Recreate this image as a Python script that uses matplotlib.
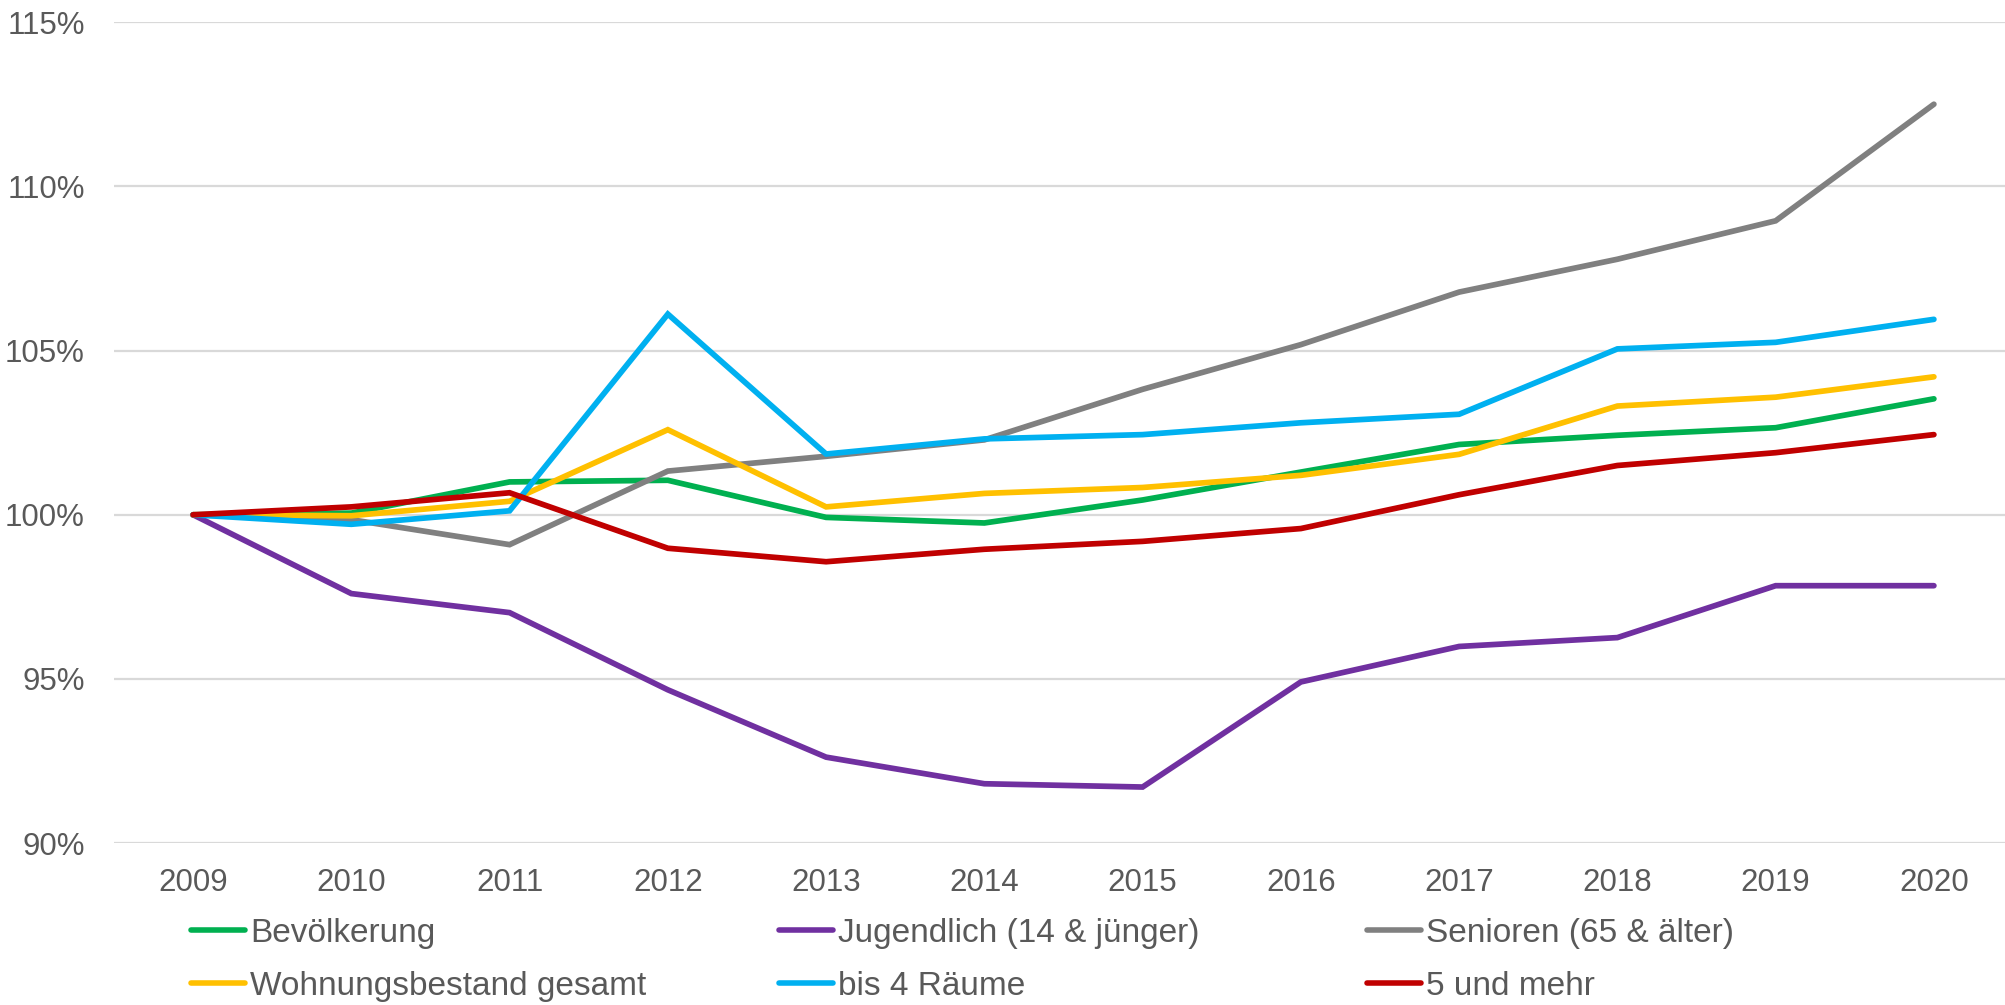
import matplotlib
matplotlib.use("Agg")
import matplotlib.pyplot as plt
from matplotlib.ticker import FixedLocator, FuncFormatter

plt.rcParams['font.family'] = ['Liberation Sans', 'DejaVu Sans']

years = [2009, 2010, 2011, 2012, 2013, 2014, 2015, 2016, 2017, 2018, 2019, 2020]

bevoelkerung = [100.0, 100.05, 101.0, 101.05, 99.92, 99.75, 100.45, 101.3, 102.14, 102.42, 102.65, 103.53]
jugendlich = [100.0, 97.6, 97.02, 94.67, 92.62, 91.81, 91.71, 94.91, 95.99, 96.26, 97.84, 97.84]
senioren = [100.0, 99.85, 99.09, 101.33, 101.78, 102.28, 103.82, 105.18, 106.78, 107.78, 108.95, 112.5]
wohnungsbestand = [100.0, 99.97, 100.41, 102.59, 100.24, 100.65, 100.83, 101.2, 101.84, 103.31, 103.58, 104.2]
bis_4_raeume = [100.0, 99.71, 100.12, 106.11, 101.85, 102.31, 102.44, 102.8, 103.06, 105.05, 105.25, 105.95]
fuenf_und_mehr = [100.0, 100.24, 100.67, 98.98, 98.57, 98.95, 99.19, 99.58, 100.61, 101.5, 101.89, 102.44]

labels = ["Bevölkerung", "Jugendlich (14 & jünger)", "Senioren (65 & älter)",
          "Wohnungsbestand gesamt", "bis 4 Räume", "5 und mehr"]
series = [bevoelkerung, jugendlich, senioren, wohnungsbestand, bis_4_raeume, fuenf_und_mehr]
colors = ["#00B050", "#7030A0", "#808080", "#FFC000", "#00B0F0", "#C00000"]

y_ticks = [90, 95, 100, 105, 110, 115]

text_color = "#595959"
grid_color = "#D9D9D9"

fig = plt.figure(figsize=(20.06, 10.05), dpi=100)
ax = fig.add_axes([0.0568, 0.161, 0.9467, 0.817])

for vals, col, lab in zip(series, colors, labels):
    ax.plot(years, vals, color=col, lw=4.1, label=lab,
            solid_joinstyle='miter', solid_capstyle='round', zorder=3)

ax.set_xlim(years[0] - 0.5, years[-1] + 0.5)
ax.set_ylim(y_ticks[0], y_ticks[-1])
ax.xaxis.set_major_locator(FixedLocator(years))
ax.yaxis.set_major_locator(FixedLocator(y_ticks))
ax.yaxis.set_major_formatter(FuncFormatter(lambda v, p: f"{v:.0f}%"))
ax.grid(axis='y', color=grid_color, lw=1.6, zorder=0)
ax.set_axisbelow(True)
for s in ax.spines.values():
    s.set_visible(False)
ax.tick_params(axis='both', length=0, labelsize=22.5, labelcolor=text_color)
ax.tick_params(axis='y', pad=21)
ax.tick_params(axis='x', pad=18)

# Legend: three columns of two rows each
handles = ax.get_legend_handles_labels()[0]
col_x = [0.0952, 0.3883, 0.6815]
for i, x0 in enumerate(col_x):
    hs = [handles[i], handles[i + 3]]
    ls = [labels[i], labels[i + 3]]
    lg = fig.legend(hs, ls, loc='upper left', bbox_to_anchor=(x0, 0.0866),
                    frameon=False, fontsize=24, handlelength=1.62,
                    handletextpad=0.16, labelspacing=0.66, borderaxespad=0,
                    borderpad=0, labelcolor=text_color)
    for ln in lg.get_lines():
        ln.set_linewidth(4.0)
        ln.set_solid_capstyle('round')

fig.savefig("out.png", dpi=100)
